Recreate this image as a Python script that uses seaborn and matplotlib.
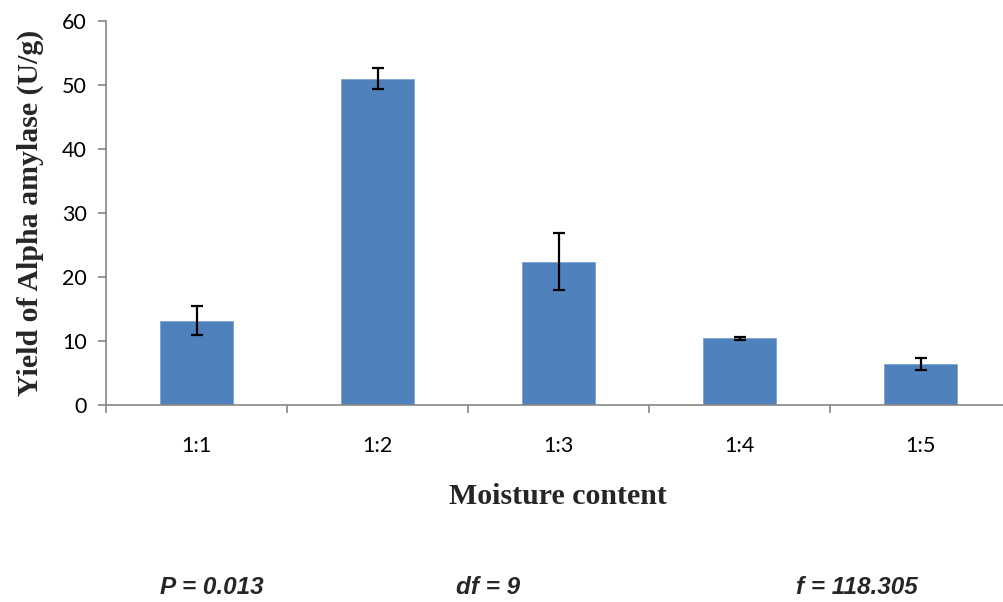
import matplotlib
matplotlib.use("Agg")
import matplotlib.pyplot as plt
import seaborn as sns
import pandas as pd

# Alpha amylase yield at each moisture ratio
categories = ["1:1", "1:2", "1:3", "1:4", "1:5"]
yields = [13.2, 51.0, 22.4, 10.4, 6.4]
errors = [2.2, 1.7, 4.4, 0.3, 0.9]
y_ticks = [0, 10, 20, 30, 40, 50, 60]
stats_text = ["P = 0.013", "df = 9", "f = 118.305"]

df = pd.DataFrame({"moisture": categories, "yield": yields})

sns.set_theme(style="white")
plt.rcParams["font.family"] = ["Lato", "DejaVu Sans"]

W, H = 1004, 602
fig = plt.figure(figsize=(W / 100, H / 100), dpi=100)
ax = fig.add_axes([106 / W, 1 - 405 / H, 905 / W, 384 / H])

bar_color = "#4F81BD"
sns.barplot(data=df, x="moisture", y="yield", color=bar_color, saturation=1,
            width=0.4, errorbar=None, ax=ax, edgecolor="#7FA3D3", linewidth=0.6)
ax.errorbar(x=list(range(len(categories))), y=yields, yerr=errors, fmt="none",
            ecolor="black", elinewidth=1.6, capsize=4, capthick=1.6)

ax.set_xlim(-0.5, len(categories) - 0.5)
ax.set_ylim(0, 60)
ax.set_yticks(y_ticks)

axis_color = "#868686"
for side in ["top", "right"]:
    ax.spines[side].set_visible(False)
for side in ["left", "bottom"]:
    ax.spines[side].set_color(axis_color)
    ax.spines[side].set_linewidth(1.2)

# x ticks sit on the category boundaries, labels at the centres
ax.set_xticks([i - 0.5 for i in range(len(categories) + 1)], minor=False)
ax.set_xticklabels([])
ax.set_xticks(list(range(len(categories))), minor=True)
ax.set_xticklabels(categories, minor=True)
ax.tick_params(axis="x", which="major", direction="out", length=6, width=1.2,
               color=axis_color, bottom=True)
ax.tick_params(axis="x", which="minor", length=0, pad=22, labelsize=15.5,
               labelcolor="black", bottom=True)
ax.tick_params(axis="y", direction="out", length=6, width=1.2, color=axis_color,
               left=True, labelsize=15.5, labelcolor="black", pad=8)

ax.set_xlabel("Moisture content", family="Liberation Serif", fontweight="bold",
              fontsize=21.5)
ax.set_ylabel("Yield of Alpha amylase (U/g)", family="Liberation Serif",
              fontweight="bold", fontsize=21.5)
ax.xaxis.set_label_coords((558 - 106) / 905, -(497 - 405) / 384)
ax.yaxis.set_label_coords(-(106 - 30) / 905, (405 - 213) / 384)
ax.xaxis.label.set_va("center")
ax.yaxis.label.set_va("center")

for label, xc in zip(stats_text, [212, 488, 857]):
    fig.text(xc / W, 1 - 587 / H, label, ha="center", va="center",
             family="Liberation Sans", fontweight="bold", style="italic",
             fontsize=17.5)

fig.savefig("out.png", dpi=100)
